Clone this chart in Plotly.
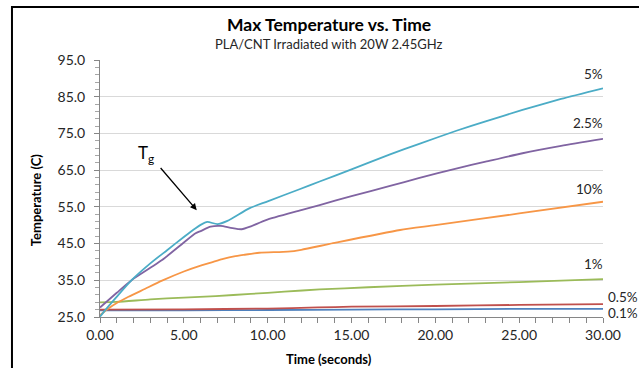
import plotly.graph_objects as go

# ---- data ----
t_5 = [0, 0.3, 0.9, 1.9, 3.0, 4.0, 5.0, 5.7, 6.0, 6.4, 7.0, 7.6, 8.9, 10, 11.9, 13.1, 15, 17.3, 19, 21.3, 23, 25.2, 27.5, 30]
T_5 = [25.1, 26.8, 30.0, 35.1, 39.6, 43.2, 46.8, 49.2, 50.1, 50.9, 50.3, 51.2, 54.6, 56.5, 59.8, 61.9, 65.2, 69.3, 72.1, 75.8, 78.3, 81.4, 84.4, 87.3]

t_25 = [0, 1.0, 1.9, 3.0, 3.7, 5.0, 5.7, 6.0, 6.6, 7.2, 7.8, 8.45, 9.0, 9.9, 12, 13.1, 15, 17.3, 19, 21.3, 23, 25.2, 27.5, 30]
T_25 = [27.6, 31.6, 35.1, 38.4, 40.5, 45.3, 47.8, 48.4, 49.6, 49.8, 49.3, 48.9, 49.7, 51.4, 54.1, 55.5, 57.9, 60.7, 62.8, 65.5, 67.3, 69.6, 71.6, 73.5]

t_10 = [0, 0.5, 1.0, 1.7, 2.7, 3.7, 5.0, 6.0, 6.9, 7.35, 8.0, 8.55, 9.5, 11.2, 12.0, 13.9, 17.9, 20, 25, 30]
T_10 = [25.5, 27.3, 28.8, 30.5, 32.7, 34.9, 37.4, 39.0, 40.2, 40.8, 41.5, 41.9, 42.5, 42.8, 43.3, 45.1, 48.7, 50.0, 53.2, 56.4]

t_1 = [0, 1, 3, 5, 6.9, 9, 11, 13.1, 16, 20, 25, 30]
T_1 = [29.0, 29.1, 29.8, 30.3, 30.7, 31.3, 31.9, 32.5, 33.1, 33.8, 34.5, 35.3]

t_05 = [0, 5, 10, 13, 15, 20, 25, 30]
T_05 = [27.0, 27.1, 27.3, 27.6, 27.8, 28.0, 28.3, 28.5]

t_01 = [0, 5, 10, 15, 20, 25, 30]
T_01 = [26.8, 26.8, 26.9, 27.0, 27.1, 27.2, 27.2]

series = [
    ("0.1%", t_01, T_01, "#4F81BD", 26.1, "left"),
    ("0.5%", t_05, T_05, "#C0504D", 30.4, "left"),
    ("1%", t_1, T_1, "#9BBB59", 39.4, "right"),
    ("10%", t_10, T_10, "#F79646", 59.9, "right"),
    ("2.5%", t_25, T_25, "#8064A2", 77.9, "right"),
    ("5%", t_5, T_5, "#4BACC6", 91.2, "right"),
]

FONT = "Lato"
fig = go.Figure()
for name, t, T, col, ly, anchor in series:
    fig.add_trace(go.Scatter(x=t, y=T, mode="lines", name=name,
                             line=dict(color=col, width=1.8, shape="spline", smoothing=0.6),
                             showlegend=False))
    fig.add_annotation(xref="paper", yref="y", x=1.004 if anchor == "right" else 1.006,
                       y=ly, text=name, showarrow=False, xanchor=anchor, yanchor="middle",
                       font=dict(family=FONT, size=13.5, color="#262626"))

fig.update_layout(
    width=639, height=368,
    margin=dict(l=100, r=36, t=60, b=51),
    paper_bgcolor="white", plot_bgcolor="white",
    font=dict(family=FONT, color="#262626"),
)
fig.update_xaxes(range=[0, 30], tick0=0, dtick=5, tickformat=".2f", showgrid=False,
                 showline=True, linecolor="#868686", linewidth=1,
                 ticks="outside", ticklen=5, tickcolor="#868686",
                 tickfont=dict(family=FONT, size=14, color="#262626"),
                 minor=dict(tick0=0, dtick=1, ticks="outside", ticklen=5, tickcolor="#868686"),
                 zeroline=False)
fig.update_yaxes(range=[25, 95], tick0=25, dtick=10, tickformat=".1f", showgrid=True,
                 gridcolor="#D9D9D9", gridwidth=1,
                 showline=True, linecolor="#868686", linewidth=1,
                 ticks="outside", ticklen=5, tickcolor="#868686",
                 ticklabelstandoff=6,
                 tickfont=dict(family=FONT, size=14, color="#262626"),
                 minor=dict(tick0=25, dtick=2, ticks="outside", ticklen=4, tickcolor="#A6A6A6"),
                 zeroline=False)

# titles
fig.add_annotation(xref="paper", yref="paper", x=0.455, y=1.14, xanchor="center", yanchor="middle",
                   text="<b>Max Temperature vs. Time</b>",
                   showarrow=False, font=dict(family=FONT, size=17.5, color="#000000"))
fig.add_annotation(xref="paper", yref="paper", x=0.455, y=1.062, xanchor="center", yanchor="middle",
                   text="PLA/CNT Irradiated with 20W 2.45GHz",
                   showarrow=False, font=dict(family=FONT, size=13, color="#262626"))
fig.add_annotation(xref="paper", yref="paper", x=0.455, y=-0.163, xanchor="center", yanchor="middle",
                   text="<b>Time (seconds)</b>",
                   showarrow=False, font=dict(family=FONT, size=13, color="#000000"))
fig.add_annotation(xref="paper", yref="paper", x=-0.127, y=0.455, xanchor="center", yanchor="middle",
                   text="<b>Temperature (C)</b>",
                   showarrow=False, textangle=-90, font=dict(family=FONT, size=13, color="#000000"))

# Tg annotation and arrow
fig.add_annotation(xref="x", yref="y", x=2.74, y=69.4, text="T<sub>g</sub>", showarrow=False,
                   xanchor="center", yanchor="middle",
                   font=dict(family=FONT, size=17, color="#000000"))
fig.add_annotation(xref="x", yref="y", x=5.77, y=54.1, axref="x", ayref="y", ax=3.54, ay=66.0,
                   text="", showarrow=True, arrowhead=2, arrowsize=1, arrowwidth=1.3,
                   arrowcolor="#000000")

# chart frame
fig.add_shape(type="rect", xref="paper", yref="paper", x0=-0.175, x1=1.09, y0=-0.3, y1=1.206,
              line=dict(color="#000000", width=2), fillcolor="rgba(0,0,0,0)", layer="above")

fig.write_html("out.html")
